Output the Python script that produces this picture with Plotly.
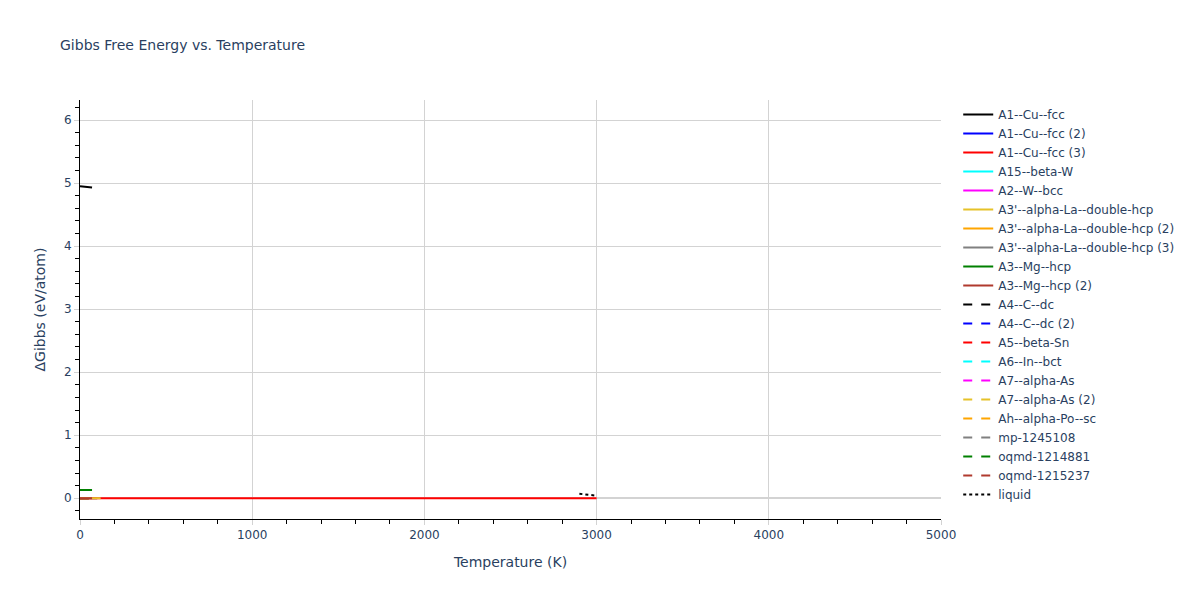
import plotly.graph_objects as go

# ---- data ----
names = [
    "A1--Cu--fcc", "A1--Cu--fcc (2)", "A1--Cu--fcc (3)", "A15--beta-W", "A2--W--bcc",
    "A3'--alpha-La--double-hcp", "A3'--alpha-La--double-hcp (2)", "A3'--alpha-La--double-hcp (3)",
    "A3--Mg--hcp", "A3--Mg--hcp (2)",
    "A4--C--dc", "A4--C--dc (2)", "A5--beta-Sn", "A6--In--bct", "A7--alpha-As",
    "A7--alpha-As (2)", "Ah--alpha-Po--sc", "mp-1245108", "oqmd-1214881", "oqmd-1215237",
]
colors = [
    "black", "blue", "red", "cyan", "magenta", "#E6C229", "orange", "gray", "green", "#B03A2E",
    "black", "blue", "red", "cyan", "magenta", "#E6C229", "orange", "gray", "green", "#B03A2E",
]
dashes = ["solid"] * 10 + ["dash"] * 10

temps = {
    "A1--Cu--fcc": [0, 35, 70],
    "A1--Cu--fcc (2)": [0, 50, 100],
    "A1--Cu--fcc (3)": [0, 1000, 2000, 3000],
    "A15--beta-W": [0, 50],
    "A2--W--bcc": [0, 50],
    "A3'--alpha-La--double-hcp": [0, 60, 120],
    "A3'--alpha-La--double-hcp (2)": [0, 50, 100],
    "A3'--alpha-La--double-hcp (3)": [0, 50],
    "A3--Mg--hcp": [0, 35, 70],
    "A3--Mg--hcp (2)": [0, 35, 70],
    "A4--C--dc": [0, 50],
    "A4--C--dc (2)": [0, 50],
    "A5--beta-Sn": [0, 50],
    "A6--In--bct": [0, 50],
    "A7--alpha-As": [0, 50],
    "A7--alpha-As (2)": [0, 50],
    "Ah--alpha-Po--sc": [0, 50],
    "mp-1245108": [0, 50],
    "oqmd-1214881": [0, 50],
    "oqmd-1215237": [0, 50],
}
gibbs = {
    "A1--Cu--fcc": [4.95, 4.94, 4.93],
    "A1--Cu--fcc (2)": [0.0, 0.0, 0.0],
    "A1--Cu--fcc (3)": [0.0, 0.0, 0.0, 0.0],
    "A15--beta-W": [0.0, 0.0],
    "A2--W--bcc": [0.0, 0.0],
    "A3'--alpha-La--double-hcp": [0.0, 0.0, 0.0],
    "A3'--alpha-La--double-hcp (2)": [0.0, 0.0, 0.0],
    "A3'--alpha-La--double-hcp (3)": [0.0, 0.0],
    "A3--Mg--hcp": [0.13, 0.13, 0.13],
    "A3--Mg--hcp (2)": [0.0, 0.0, 0.0],
    "A4--C--dc": [0.0, 0.0],
    "A4--C--dc (2)": [0.0, 0.0],
    "A5--beta-Sn": [0.0, 0.0],
    "A6--In--bct": [0.0, 0.0],
    "A7--alpha-As": [0.0, 0.0],
    "A7--alpha-As (2)": [0.0, 0.0],
    "Ah--alpha-Po--sc": [0.0, 0.0],
    "mp-1245108": [0.0, 0.0],
    "oqmd-1214881": [0.0, 0.0],
    "oqmd-1215237": [0.0, 0.0],
}
liquid_T = [2900, 2950, 3000]
liquid_G = [0.07, 0.055, 0.04]

# traces drawn above the red line (visible at T near 0)
on_top = ("A3'--alpha-La--double-hcp", "A3--Mg--hcp (2)", "A1--Cu--fcc", "A3--Mg--hcp")

traces = []
for rank, (name, color, dash) in enumerate(zip(names, colors, dashes), start=1):
    traces.append(go.Scatter(
        x=temps[name], y=gibbs[name], mode="lines", name=name, legendrank=rank,
        line=dict(color=color, dash=dash, width=2),
    ))
liquid = go.Scatter(
    x=liquid_T, y=liquid_G, mode="lines", name="liquid", legendrank=len(names) + 1,
    line=dict(color="black", dash="dot", width=2),
)

fig = go.Figure()
fig.add_traces([t for t in traces if t.name not in on_top and t.name != "A1--Cu--fcc (3)"])
fig.add_traces([t for t in traces if t.name == "A1--Cu--fcc (3)"])
fig.add_traces([t for t in traces if t.name in on_top])
fig.add_trace(liquid)

fig.update_layout(
    width=1200, height=600,
    template="plotly_white",
    font=dict(family="Verdana, DejaVu Sans, sans-serif", size=12),
    title=dict(text="Gibbs Free Energy vs. Temperature", x=0.05, xanchor="left",
               y=1 - 45 / 600, yanchor="middle", font=dict(size=14)),
    margin=dict(l=80, r=259, t=100, b=81),
    legend=dict(x=1.02, y=1.0, font=dict(size=12)),
    xaxis=dict(
        title=dict(text="Temperature (K)", font=dict(size=14)),
        range=[0, 5000], showgrid=True, gridcolor="lightgray",
        showline=True, linecolor="black", linewidth=1,
        ticks="outside", tickcolor="lightgray", ticklen=5,
        zeroline=False,
        minor=dict(ticks="outside", ticklen=4, tickcolor="black", dtick=200, showgrid=False),
    ),
    yaxis=dict(
        title=dict(text="ΔGibbs (eV/atom)", font=dict(size=14)),
        range=[-0.33, 6.32], showgrid=True, gridcolor="lightgray",
        showline=True, linecolor="black", linewidth=1,
        ticks="outside", tickcolor="lightgray", ticklen=5,
        zeroline=True, zerolinecolor="lightgray", zerolinewidth=2,
        minor=dict(ticks="outside", ticklen=4, tickcolor="black", dtick=0.2, showgrid=False),
    ),
)

fig.write_html("out.html", config={"displayModeBar": False},
               post_script="document.body.style.margin='0';")
